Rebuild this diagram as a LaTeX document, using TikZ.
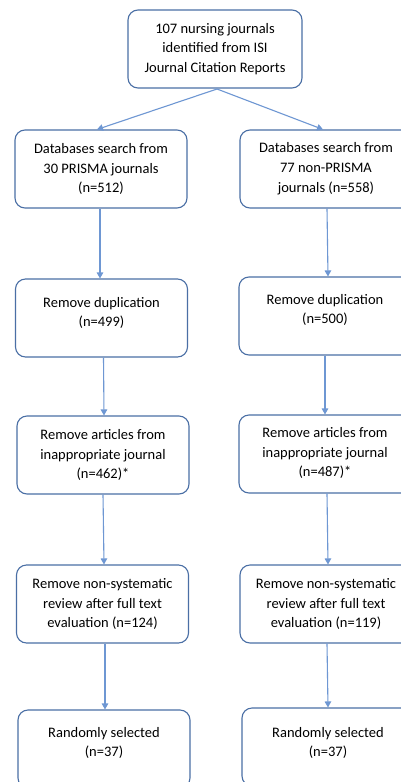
\documentclass[tikz,border=0pt]{standalone}
\usepackage{fontspec}
\setmainfont{Carlito}
\usetikzlibrary{arrows.meta}
\definecolor{boxline}{HTML}{4A6FA5}
\definecolor{arrowline}{HTML}{6E97D3}
\begin{document}
\begin{tikzpicture}[x=1pt,y=-1pt,
  box/.style={draw=boxline, line width=1.1pt, rounded corners=10pt, minimum width=172pt, minimum height=78pt, inner sep=0pt},
  txt/.style={align=center, font=\fontsize{14.5}{19.8}\selectfont, inner sep=0pt},
  arr/.style={draw=arrowline, line width=1.1pt, -{Triangle[width=6.5pt,length=6pt]}}]
\useasboundingbox (0,0) rectangle (401,782);
\clip (0,0) rectangle (401,782);
\fill[white] (0,0) rectangle (401,782);
% boxes
\node[box, minimum width=174pt] (t) at (215,49) {};
\node[box] (l1) at (101,169) {};
\node[box] (r1) at (326,169) {};
\node[box] (l2) at (101.5,318) {};
\node[box] (r2) at (325,316) {};
\node[box] (l3) at (103,455) {};
\node[box] (r3) at (325,454) {};
\node[box] (l4) at (102.5,604) {};
\node[box] (r4) at (326,604) {};
\node[box] (l5) at (104,749) {};
\node[box] (r5) at (328,747) {};
% texts
\node[txt] (tt) at (215,49) {107 nursing journals\\identified from ISI\\Journal Citation Reports};
\node[txt] (l1t) at (101,169) {Databases search from\\30 PRISMA journals\\(n=512)};
\node[txt] (r1t) at (326,169) {Databases search from\\77 non-PRISMA\\journals (n=558)};
\node[txt] (l2t) at (101.5,313) {Remove duplication\\(n=499)};
\node[txt] (r2t) at (325,310) {Remove duplication\\(n=500)};
\node[txt] (l3t) at (103,455) {Remove articles from\\inappropriate journal\\(n=462)*};
\node[txt] (r3t) at (325,453) {Remove articles from\\inappropriate journal\\(n=487)*};
\node[txt] (l4t) at (102.5,604) {Remove non-systematic\\review after full text\\evaluation (n=124)};
\node[txt] (r4t) at (326,604) {Remove non-systematic\\review after full text\\evaluation (n=119)};
\node[txt] (l5t) at (104,743) {Randomly selected\\(n=37)};
\node[txt] (r5t) at (328,743) {Randomly selected\\(n=37)};
% arrows
\coordinate (ts) at (217,89);
\draw[arr] (ts) -- ([xshift=-4pt]l1.north);
\draw[arr] (ts) -- ([xshift=-3pt]r1.north);
\draw[arr] ([xshift=-1pt]l1.south) -- ([xshift=-1.5pt]l2.north);
\draw[arr] ([xshift=1pt]r1.south) -- ([xshift=3pt]r2.north);
\draw[arr] ([xshift=2pt]l2.south) -- ([xshift=1pt]l3.north);
\draw[arr] (r2.south) -- (r3.north);
\draw[arr] (l3.south) -- ([xshift=1.5pt]l4.north);
\draw[arr] ([xshift=2pt]r3.south) -- ([xshift=2pt]r4.north);
\draw[arr] ([xshift=2.5pt]l4.south) -- ([xshift=1pt]l5.north);
\draw[arr] ([xshift=1pt]r4.south) -- (r5.north);
\end{tikzpicture}
\end{document}
